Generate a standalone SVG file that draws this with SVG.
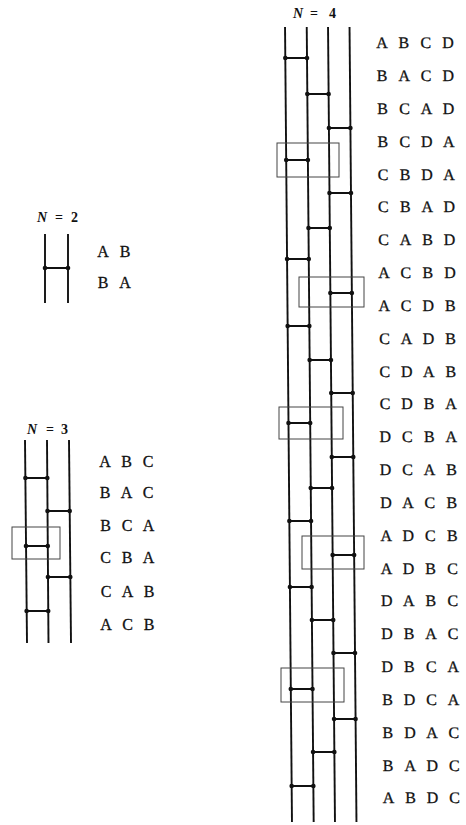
<svg xmlns="http://www.w3.org/2000/svg" width="466" height="825" viewBox="0 0 466 825">
<defs>
<marker id="dot" viewBox="-3 -3 6 6" refX="0" refY="0" markerWidth="6" markerHeight="6" markerUnits="userSpaceOnUse">
<circle cx="0" cy="0" r="2.3" fill="#111"/>
</marker>
</defs>
<style>
.wire{stroke:#111;stroke-width:1.9;fill:none}
.rung{stroke:#111;stroke-width:2;fill:none;marker-start:url(#dot);marker-end:url(#dot)}
.box{stroke:#444;stroke-width:1;fill:none}
.lt{font-family:"Liberation Serif","Times New Roman",serif;font-size:16px;fill:#111;stroke:#111;stroke-width:0.3;text-anchor:middle}
.lab{font-family:"Liberation Serif","Times New Roman",serif;font-size:14px;font-weight:bold;fill:#111}
.it{font-style:italic}
</style>
<rect width="466" height="825" fill="#fff"/>

<g id="n2">
<text class="lab" y="222"><tspan class="it" x="37">N</tspan><tspan x="55">=</tspan><tspan x="71">2</tspan></text>
<g id="n2-wires">
<line class="wire" x1="45" y1="234" x2="45" y2="303"/>
<line class="wire" x1="68" y1="234" x2="68" y2="303"/>
</g>
<g id="n2-connectors">
<line class="rung" x1="45" y1="268" x2="68" y2="268"/>
</g>
<g id="n2-perms">
<text class="lt" x="103 125" y="257">AB</text>
<text class="lt" x="103 125" y="288">BA</text>
</g>
</g>

<g id="n3">
<text class="lab" y="434"><tspan class="it" x="27">N</tspan><tspan x="46">=</tspan><tspan x="61">3</tspan></text>
<g id="n3-wires">
<line class="wire" x1="25" y1="440" x2="27" y2="643"/>
<line class="wire" x1="47" y1="440" x2="48.5" y2="643"/>
<line class="wire" x1="69" y1="440" x2="71" y2="643"/>
</g>
<g id="n3-connectors">
<line class="rung" x1="25.4" y1="478" x2="47.3" y2="478"/>
<line class="rung" x1="47.5" y1="511" x2="69.7" y2="511"/>
<line class="rung" x1="26" y1="546" x2="47.8" y2="546"/>
<line class="rung" x1="47.9" y1="577" x2="70.3" y2="577"/>
<line class="rung" x1="26.6" y1="611" x2="48.2" y2="611"/>
</g>
<rect class="box" x="12" y="527" width="48" height="32"/>
<g id="n3-perms">
<text class="lt" x="105 126.5 148" y="467.3">ABC</text>
<text class="lt" x="105 126.5 148" y="498.3">BAC</text>
<text class="lt" x="105.5 127 148.5" y="531.3">BCA</text>
<text class="lt" x="105.5 127 148.5" y="563.3">CBA</text>
<text class="lt" x="106 127.5 149" y="597.3">CAB</text>
<text class="lt" x="106 127.5 149" y="630.3">ACB</text>
</g>
</g>

<g id="n4">
<text class="lab" y="18"><tspan class="it" x="293">N</tspan><tspan x="310">=</tspan><tspan x="329">4</tspan></text>
<g transform="skewX(0.5)">
<g id="n4-wires">
<line class="wire" x1="284.8" y1="27" x2="284.8" y2="822"/>
<line class="wire" x1="306.5" y1="27" x2="306.5" y2="822"/>
<line class="wire" x1="327.8" y1="27" x2="327.8" y2="822"/>
<line class="wire" x1="349.3" y1="27" x2="349.3" y2="822"/>
</g>
<g id="n4-connectors">
<line class="rung" x1="284.8" y1="58" x2="306.5" y2="58"/>
<line class="rung" x1="306.5" y1="94" x2="327.8" y2="94"/>
<line class="rung" x1="327.8" y1="128" x2="349.3" y2="128"/>
<line class="rung" x1="284.8" y1="160" x2="306.5" y2="160"/>
<line class="rung" x1="327.8" y1="193" x2="349.3" y2="193"/>
<line class="rung" x1="306.5" y1="228" x2="327.8" y2="228"/>
<line class="rung" x1="284.8" y1="259" x2="306.5" y2="259"/>
<line class="rung" x1="327.8" y1="293" x2="349.3" y2="293"/>
<line class="rung" x1="284.8" y1="326" x2="306.5" y2="326"/>
<line class="rung" x1="306.5" y1="360" x2="327.8" y2="360"/>
<line class="rung" x1="327.8" y1="393" x2="349.3" y2="393"/>
<line class="rung" x1="284.8" y1="423" x2="306.5" y2="423"/>
<line class="rung" x1="327.8" y1="457" x2="349.3" y2="457"/>
<line class="rung" x1="306.5" y1="488" x2="327.8" y2="488"/>
<line class="rung" x1="284.8" y1="521" x2="306.5" y2="521"/>
<line class="rung" x1="327.8" y1="555" x2="349.3" y2="555"/>
<line class="rung" x1="284.8" y1="587" x2="306.5" y2="587"/>
<line class="rung" x1="306.5" y1="620" x2="327.8" y2="620"/>
<line class="rung" x1="327.8" y1="653" x2="349.3" y2="653"/>
<line class="rung" x1="284.8" y1="689" x2="306.5" y2="689"/>
<line class="rung" x1="327.8" y1="719" x2="349.3" y2="719"/>
<line class="rung" x1="306.5" y1="752" x2="327.8" y2="752"/>
<line class="rung" x1="284.8" y1="786" x2="306.5" y2="786"/>
</g>
<g id="n4-perms">
<text class="lt" x="381.5 403.5 425.5 447.5" y="48.3">ABCD</text>
<text class="lt" x="381.5 403.5 425.5 447.5" y="81.1">BACD</text>
<text class="lt" x="381.5 403.5 425.5 447.5" y="114">BCAD</text>
<text class="lt" x="381.5 403.5 425.5 447.5" y="146.8">BCDA</text>
<text class="lt" x="381.5 403.5 425.5 447.5" y="179.6">CBDA</text>
<text class="lt" x="381.5 403.5 425.5 447.5" y="212.5">CBAD</text>
<text class="lt" x="381.5 403.5 425.5 447.5" y="245.3">CABD</text>
<text class="lt" x="381.5 403.5 425.5 447.5" y="278.1">ACBD</text>
<text class="lt" x="381.5 403.5 425.5 447.5" y="311">ACDB</text>
<text class="lt" x="381.5 403.5 425.5 447.5" y="343.8">CADB</text>
<text class="lt" x="381.5 403.5 425.5 447.5" y="376.6">CDAB</text>
<text class="lt" x="381.5 403.5 425.5 447.5" y="409.4">CDBA</text>
<text class="lt" x="381.5 403.5 425.5 447.5" y="442.3">DCBA</text>
<text class="lt" x="381.5 403.5 425.5 447.5" y="475.1">DCAB</text>
<text class="lt" x="381.5 403.5 425.5 447.5" y="507.9">DACB</text>
<text class="lt" x="381.5 403.5 425.5 447.5" y="540.8">ADCB</text>
<text class="lt" x="381.5 403.5 425.5 447.5" y="573.6">ADBC</text>
<text class="lt" x="381.5 403.5 425.5 447.5" y="606.4">DABC</text>
<text class="lt" x="381.5 403.5 425.5 447.5" y="639.3">DBAC</text>
<text class="lt" x="381.5 403.5 425.5 447.5" y="672.1">DBCA</text>
<text class="lt" x="381.5 403.5 425.5 447.5" y="704.9">BDCA</text>
<text class="lt" x="381.5 403.5 425.5 447.5" y="737.8">BDAC</text>
<text class="lt" x="381.5 403.5 425.5 447.5" y="770.6">BADC</text>
<text class="lt" x="381.5 403.5 425.5 447.5" y="803.4">ABDC</text>
</g>
</g>
<g id="n4-boxes">
<rect class="box" x="277" y="143" width="62" height="34"/>
<rect class="box" x="299" y="277" width="65" height="30"/>
<rect class="box" x="279" y="407" width="64" height="32"/>
<rect class="box" x="302" y="536" width="62" height="33"/>
<rect class="box" x="281" y="668" width="63" height="34"/>
</g>
</g>
</svg>
